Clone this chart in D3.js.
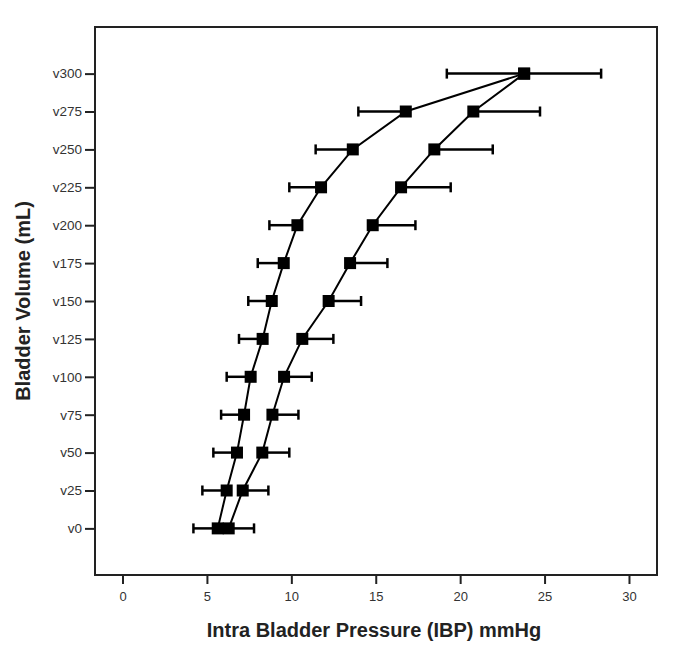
<!DOCTYPE html>
<html>
<head>
<meta charset="utf-8">
<script src="https://cdn.jsdelivr.net/npm/d3@7"></script>
<style>
  body { margin: 0; background: #fff; }
  svg text { font-family: "Liberation Sans", Arial, sans-serif; }
</style>
</head>
<body>
<div id="chart"></div>
<script>
const volumes = ["v0", "v25", "v50", "v75", "v100", "v125", "v150", "v175", "v200", "v225", "v250", "v275", "v300"];

// lower curve, error bar drawn to the left
const meanA = [5.64, 6.17, 6.78, 7.20, 7.59, 8.30, 8.84, 9.55, 10.36, 11.76, 13.64, 16.78, 23.79];
const lowA  = [4.20, 4.73, 5.38, 5.84, 6.17, 6.90, 7.45, 8.01, 8.70, 9.88, 11.44, 13.97, 19.21];

// upper curve, error bar drawn to the right
const meanB = [6.29, 7.12, 8.28, 8.88, 9.57, 10.65, 12.21, 13.48, 14.82, 16.50, 18.47, 20.78, 23.79];
const highB = [7.79, 8.64, 9.88, 10.42, 11.21, 12.49, 14.13, 15.69, 17.35, 19.44, 21.93, 24.73, 28.35];

const xTicks = [0, 5, 10, 15, 20, 25, 30];

const W = 685, H = 663;
const mLeft = 95, mRight = 657, mTop = 27, mBottom = 575;

const svg = d3.select("#chart").append("svg")
  .attr("width", W)
  .attr("height", H);

const x = d3.scaleLinear().domain([-1.63, 31.66]).range([mLeft, mRight]);
const y = d3.scalePoint().domain(volumes).range([mBottom, mTop]).padding(1.23);

// frame
svg.append("rect")
  .attr("x", mLeft).attr("y", mTop)
  .attr("width", mRight - mLeft).attr("height", mBottom - mTop)
  .attr("fill", "none")
  .attr("stroke", "#222")
  .attr("stroke-width", 2);

const xAxis = svg.append("g")
  .attr("transform", `translate(0,${mBottom})`)
  .call(d3.axisBottom(x).tickValues(xTicks).tickSize(9).tickPadding(8));
xAxis.select(".domain").remove();

const yAxis = svg.append("g")
  .attr("transform", `translate(${mLeft},0)`)
  .call(d3.axisLeft(y).tickSize(10).tickPadding(3));
yAxis.select(".domain").remove();

svg.selectAll(".tick line").attr("stroke", "#222").attr("stroke-width", 2);
xAxis.selectAll(".tick text").style("font-size", "13px").attr("fill", "#333");
yAxis.selectAll(".tick text").style("font-size", "13.5px").attr("fill", "#333");

// axis titles
svg.append("text")
  .attr("x", 374)
  .attr("y", 637)
  .attr("text-anchor", "middle")
  .style("font-size", "20px")
  .style("font-weight", "bold")
  .attr("fill", "#222")
  .text("Intra Bladder Pressure (IBP) mmHg");

svg.append("text")
  .attr("transform", `translate(30,${(mTop + mBottom) / 2}) rotate(-90)`)
  .attr("text-anchor", "middle")
  .style("font-size", "20px")
  .style("font-weight", "bold")
  .attr("fill", "#222")
  .text("Bladder Volume (mL)");

// error bars
const bars = volumes.map((v, i) => ({ v, from: meanA[i], to: lowA[i] }))
  .concat(volumes.map((v, i) => ({ v, from: meanB[i], to: highB[i] })));

svg.selectAll("line.err")
  .data(bars)
  .enter()
  .append("line")
  .attr("class", "err")
  .attr("x1", d => x(d.from))
  .attr("x2", d => x(d.to))
  .attr("y1", d => y(d.v))
  .attr("y2", d => y(d.v))
  .attr("stroke", "#000")
  .attr("stroke-width", 2.5);

svg.selectAll("line.cap")
  .data(bars)
  .enter()
  .append("line")
  .attr("class", "cap")
  .attr("x1", d => x(d.to))
  .attr("x2", d => x(d.to))
  .attr("y1", d => y(d.v) - 5)
  .attr("y2", d => y(d.v) + 5)
  .attr("stroke", "#000")
  .attr("stroke-width", 2.5);

// lines
const line = d3.line()
  .x(d => x(d.val))
  .y(d => y(d.v));

[meanA, meanB].forEach(series => {
  svg.append("path")
    .attr("d", line(volumes.map((v, i) => ({ v, val: series[i] }))))
    .attr("fill", "none")
    .attr("stroke", "#000")
    .attr("stroke-width", 2);
});

// markers
const pts = volumes.map((v, i) => ({ v, val: meanA[i] }))
  .concat(volumes.map((v, i) => ({ v, val: meanB[i] })));

svg.selectAll("rect.pt")
  .data(pts)
  .enter()
  .append("rect")
  .attr("class", "pt")
  .attr("x", d => x(d.val) - 6)
  .attr("y", d => y(d.v) - 6)
  .attr("width", 12)
  .attr("height", 12)
  .attr("fill", "#000");
</script>
</body>
</html>
